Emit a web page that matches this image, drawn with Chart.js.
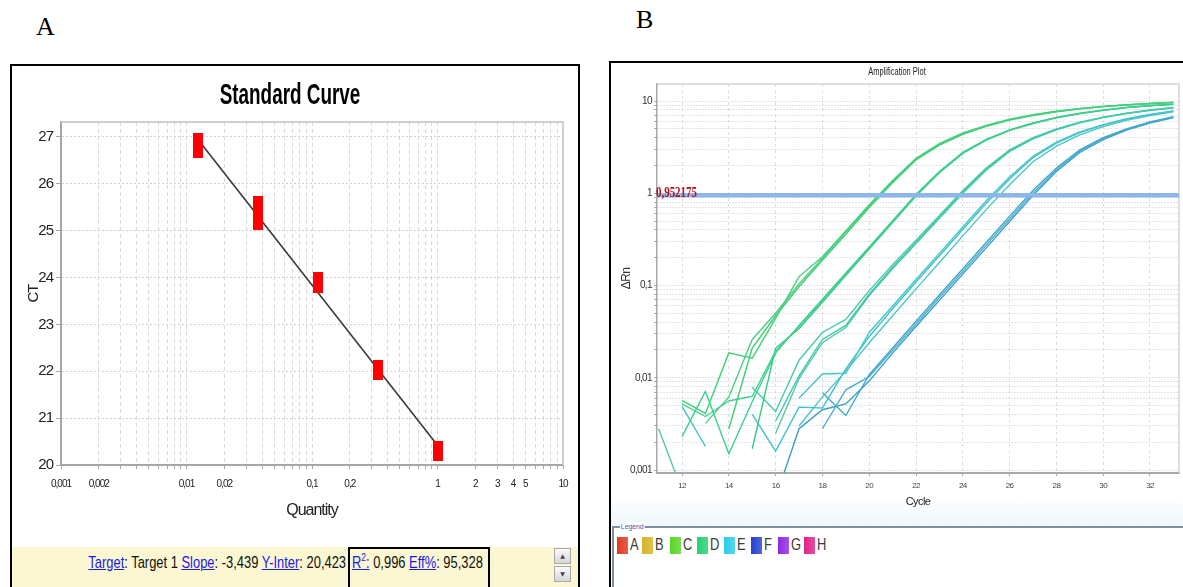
<!DOCTYPE html>
<html>
<head>
<meta charset="utf-8">
<script src="https://cdn.jsdelivr.net/npm/chart.js@4.4.1/dist/chart.umd.min.js"></script>
<style>
  html, body { margin:0; padding:0; background:#fff; }
  body { width:1183px; height:587px; overflow:hidden; position:relative; font-family:"Liberation Sans", Arial, sans-serif; }
  .plabel { position:absolute; font-family:"Liberation Serif","Times New Roman",serif; font-size:26px; color:#000; line-height:1; }
  #panelA { position:absolute; left:10px; top:64px; width:566px; height:540px; border:2px solid #000; background:#fff; }
  #cA { position:absolute; left:0; top:0; }
  #titleA { position:absolute; left:0; top:13px; width:556px; text-align:center; font-size:30px; line-height:30px; font-weight:bold; color:#000; transform:scaleX(0.63); transform-origin:278px 0; white-space:nowrap; }
  #barA { position:absolute; left:0; top:481px; width:566px; height:60px; background:#fbf7d3; }
  #statL { position:absolute; right:232px; top:6px; font-size:17px; white-space:nowrap; color:#111; line-height:20px; transform:scaleX(0.76); transform-origin:right top; }
  #statBox { position:absolute; left:336px; top:0; width:138px; height:60px; border:2px solid #000; }
  #statR { position:absolute; left:2px; top:4px; font-size:17px; white-space:nowrap; color:#111; line-height:20px; transform:scaleX(0.76); transform-origin:left top; }
  #statL a, #statR a { color:#1a1ae6; text-decoration:underline; }
  sup { font-size:11px; line-height:0; }
  .sbtn { position:absolute; left:542px; width:15px; height:14px; border:1px solid #a9a9a9; background:linear-gradient(#fafafa,#d6d6d6); font-size:6px; color:#444; text-align:center; line-height:14px; font-family:"DejaVu Sans",sans-serif; }
  #panelB { position:absolute; left:609px; top:61px; width:600px; height:560px; border-left:2px solid #000; border-top:2px solid #000; background:#fff; }
  #cB { position:absolute; left:0; top:0; }
  #titleB { position:absolute; left:0; top:4px; width:572px; text-align:center; font-size:10px; line-height:10px; color:#222; transform:scaleX(0.75); transform-origin:286px 0; white-space:nowrap; }
  #tintB { position:absolute; left:0; top:432px; width:600px; height:31px; background:linear-gradient(#ffffff,#eef7fb); }
  #legBox { position:absolute; left:1px; top:463px; width:600px; height:120px; border-top:2px solid #7f8d9c; border-left:2px solid #7f8d9c; }
  #legTitle { position:absolute; left:6px; top:-6px; background:#fff; padding:0 1px; font-size:8px; color:#3b5aa8; line-height:9px; transform:scaleX(0.85); transform-origin:left top; }
  .legItem { position:absolute; top:9px; height:18px; }
  .legSw { position:absolute; left:0; top:0; width:11px; height:17px; }
  .legTx { position:absolute; left:13px; top:-1px; font-size:17px; color:#3a3a3a; line-height:18px; transform:scaleX(0.76); transform-origin:left top; }
</style>
</head>
<body>
<div class="plabel" style="left:36px; top:14px;">A</div>
<div class="plabel" style="left:636px; top:7px;">B</div>

<div id="panelA">
  <canvas id="cA" width="566" height="480"></canvas>
  <div id="titleA">Standard Curve</div>
  <div id="barA">
    <div id="statL"><a>Target</a>: Target 1 <a>Slope</a>: -3,439 <a>Y-Inter</a>: 20,423</div>
    <div id="statBox"><div id="statR"><a>R<sup>2</sup>:</a> 0,996 <a>Eff%</a>: 95,328</div></div>
    <div class="sbtn" style="top:1px;">&#9650;</div>
    <div class="sbtn" style="top:19px;">&#9660;</div>
  </div>
</div>

<div id="panelB">
  <div id="tintB"></div>
  <canvas id="cB" width="572" height="457"></canvas>
  <div id="titleB">Amplification Plot</div>
  <div id="legBox">
    <div id="legTitle">Legend</div>
  </div>
</div>

<script>
// ---------------- Panel A data ----------------
const quantities = [0.0123, 0.037, 0.111, 0.333, 1];
const ctRep1 = [26.89, 25.54, 23.93, 22.05, 20.32];
const ctRep2 = [26.80, 25.40, 23.90, 22.03, 20.30];
const ctRep3 = [26.74, 25.20, 23.87, 22.00, 20.28];
const fitX = [0.0123, 1];
const fitY = [26.95, 20.42];
const qtyTickValues = [0.001, 0.002, 0.01, 0.02, 0.1, 0.2, 1, 2, 3, 4, 5, 10];
const qtyTickLabels = ['0,001', '0,002', '0,01', '0,02', '0,1', '0,2', '1', '2', '3', '4', '5', '10'];
const ctTickValues = [20, 21, 22, 23, 24, 25, 26, 27];

// ---------------- Panel B data ----------------
const cycles = [11,12,13,14,15,16,17,18,19,20,21,22,23,24,25,26,27,28,29,30,31,32,33];
const g1a = [null,0.0057,0.0041,0.0186,0.0163,0.044,0.125,0.205,0.39,0.75,1.38,2.40,3.45,4.50,5.45,6.35,7.10,7.75,8.30,8.75,9.10,9.42,9.68];
const g1b = [null,null,0.0032,0.0062,0.026,0.050,0.104,0.198,0.38,0.73,1.34,2.35,3.38,4.42,5.38,6.28,7.03,7.70,8.25,8.72,9.08,9.40,9.66];
const g1c = [null,null,null,0.0028,0.021,0.047,0.097,0.188,0.36,0.70,1.30,2.30,3.32,4.36,5.32,6.22,6.98,7.66,8.22,8.70,9.06,9.38,9.64];
const g2a = [null,0.0023,0.0071,0.0015,0.0055,0.0185,0.037,0.071,0.137,0.262,0.505,0.97,1.72,2.78,3.83,4.87,5.78,6.64,7.36,7.97,8.53,8.93,9.25];
const g2b = [null,0.0052,0.0038,0.0056,0.0063,0.0195,0.036,0.069,0.133,0.257,0.495,0.955,1.70,2.75,3.80,4.84,5.75,6.61,7.33,7.94,8.51,8.91,9.23];
const g2c = [null,null,null,null,0.0017,0.021,0.034,0.066,0.128,0.249,0.482,0.935,1.67,2.71,3.76,4.80,5.71,6.58,7.30,7.91,8.48,8.89,9.21];
const g3a = [null,null,null,null,0.0079,0.0043,0.0155,0.031,0.043,0.088,0.168,0.31,0.575,1.07,1.88,2.95,4.00,5.00,5.90,6.70,7.40,8.00,8.50];
const g3b = [null,null,null,null,null,0.0034,0.0105,0.026,0.037,0.081,0.158,0.295,0.55,1.03,1.82,2.88,3.92,4.92,5.84,6.65,7.35,7.95,8.45];
const g3c = [0.0028,0.0006,null,null,null,0.0025,0.0098,0.024,0.035,0.078,0.152,0.285,0.535,1.00,1.78,2.84,3.88,4.88,5.80,6.62,7.32,7.92,8.42];
const g4a = [null,0.0049,0.0018,null,null,null,0.0060,0.0110,0.0112,0.031,0.060,0.116,0.223,0.43,0.83,1.50,2.52,3.58,4.62,5.55,6.43,7.15,7.80];
const g4b = [null,null,null,null,0.0040,0.0016,0.0048,0.0047,0.0125,0.028,0.056,0.109,0.21,0.405,0.78,1.43,2.44,3.49,4.54,5.48,6.37,7.10,7.76];
const g4c = [null,null,null,null,null,null,0.0030,0.0062,0.0118,0.024,0.047,0.092,0.178,0.345,0.665,1.24,2.20,3.25,4.30,5.28,6.18,6.96,7.65];
const g5a = [null,null,null,null,null,null,null,0.0069,0.0039,0.0108,0.021,0.041,0.079,0.152,0.293,0.565,1.07,1.88,2.95,4.00,5.00,5.92,6.75];
const g5b = [null,null,null,null,null,null,null,0.0028,0.0074,0.0103,0.0198,0.0383,0.074,0.142,0.274,0.529,1.01,1.80,2.86,3.91,4.93,5.85,6.68];
const g5c = [null,null,null,null,null,0.0005,0.0028,0.0045,0.0052,0.0092,0.0185,0.036,0.069,0.133,0.256,0.495,0.95,1.72,2.77,3.82,4.85,5.78,6.60];
const curves = [g1a,g1b,g1c,g2a,g2b,g2c,g3a,g3b,g3c,g4a,g4b,g4c,g5a,g5b,g5c];
const curveColors = ['#44d07a','#4ccf84','#3fcc74','#3ccf8c','#45d095','#38c888','#48cba8','#3fc8b0','#52c8a0','#45c6c8','#3ec0d0','#50c4c4','#3fa8c8','#4aaed0','#3a9ec4'];
const threshold = 0.952175;
const cycleTickValues = [12,14,16,18,20,22,24,26,28,30,32];
const cycleTickLabels = ['12','14','16','18','20','22','24','26','28','30','32'];
const rnTickValues = [0.001, 0.01, 0.1, 1, 10];
const rnTickLabels = ['0,001', '0,01', '0,1', '1', '10'];
const legendLabels = ['A','B','C','D','E','F','G','H'];
const legendColors = ['#e2381c','#d6b424','#58d626','#22d072','#2acce6','#2440d2','#9028e4','#e02288'];

// ---------------- helpers ----------------
const SANS = '"Liberation Sans", Arial, sans-serif';
function logGrid(minExp, maxExp, lo, hi) {
  const out = [];
  for (let e = minExp; e <= maxExp; e++) {
    for (let m = 1; m <= 9; m++) {
      const v = parseFloat((m * Math.pow(10, e)).toPrecision(6));
      if (v >= lo * 0.9999 && v <= hi * 1.0001) out.push(v);
    }
  }
  return out;
}
function labelFor(vals, labels, v) {
  for (let i = 0; i < vals.length; i++) if (Math.abs(v / vals[i] - 1) < 1e-6) return labels[i];
  return '';
}
function framePlugin(color, width) {
  return { id: 'frame', beforeDatasetsDraw(chart) {
    const { ctx, chartArea: a } = chart;
    ctx.save(); ctx.strokeStyle = color; ctx.lineWidth = width;
    ctx.beginPath(); ctx.moveTo(a.left, a.top); ctx.lineTo(a.right, a.top); ctx.lineTo(a.right, a.bottom); ctx.stroke();
    ctx.restore();
  } };
}
function tightText(px) {
  return { id: 'tight',
    beforeUpdate(chart) { chart.ctx.letterSpacing = px; },
    beforeDraw(chart) { chart.ctx.letterSpacing = px; } };
}

// ---------------- Panel A chart ----------------
const redMark = document.createElement('canvas');
redMark.width = 10; redMark.height = 18;
(function(){ const c = redMark.getContext('2d'); c.fillStyle = '#ff0000'; c.fillRect(0, 0, 10, 18); })();

const repSets = [ctRep1, ctRep2, ctRep3];
const dsA = [{
  type: 'line', label: 'fit', data: fitX.map((x, i) => ({ x: x, y: fitY[i] })),
  borderColor: '#3a3a3a', borderWidth: 1.6, pointRadius: 0, order: 5, showLine: true
}];
repSets.forEach((r, k) => dsA.push({
  label: 'rep' + (k + 1), data: quantities.map((q, i) => ({ x: q, y: r[i] })),
  pointStyle: redMark, pointRadius: 6, backgroundColor: '#ff0000', borderWidth: 0, order: 1
}));

new Chart(document.getElementById('cA'), {
  type: 'scatter',
  data: { datasets: dsA },
  options: {
    responsive: false, animation: false, devicePixelRatio: 1,
    layout: { padding: { left: 0, right: 15, top: 56, bottom: 0 } },
    plugins: { legend: { display: false }, tooltip: { enabled: false }, title: { display: false } },
    scales: {
      x: {
        type: 'logarithmic', min: 0.001, max: 10,
        afterBuildTicks: s => { s.ticks = logGrid(-3, 1, 0.001, 10).map(v => ({ value: v })); },
        afterFit: s => { s.height = 81; },
        ticks: { autoSkip: false, maxRotation: 0, padding: 9, color: '#222',
          font: { family: SANS, size: 10 },
          callback: v => labelFor(qtyTickValues, qtyTickLabels, v) },
        grid: { color: '#d9d9d9', lineWidth: 1, drawTicks: true, tickLength: 4, tickColor: '#a8a8a8' },
        border: { display: true, color: '#a6a6a6', width: 2, dash: [4, 3] },
        title: { display: true, text: 'Quantity', color: '#222', font: { family: SANS, size: 16 }, padding: { top: 0, bottom: 26 } }
      },
      y: {
        min: 20, max: 27.32,
        afterBuildTicks: s => { s.ticks = ctTickValues.map(v => ({ value: v })); },
        afterFit: s => { s.width = 49; },
        ticks: { padding: 3, color: '#222', font: { family: SANS, size: 15 } },
        grid: { color: '#cfcfcf', lineWidth: 1, drawTicks: true, tickLength: 5, tickColor: '#a8a8a8' },
        border: { display: true, color: '#a6a6a6', width: 2, dash: [2, 2] },
        title: { display: true, text: 'CT', color: '#222', font: { family: SANS, size: 15 }, padding: { top: 13, bottom: 0 } }
      }
    }
  },
  plugins: [framePlugin('#cfcfcf', 2), tightText('-1px')]
});

// ---------------- Panel B chart ----------------
const dsB = curves.map((arr, i) => ({
  label: 'well' + (i + 1),
  data: arr.map((v, j) => ({ x: cycles[j], y: v })),
  showLine: true, borderColor: curveColors[i], borderWidth: 1.4, pointRadius: 0, spanGaps: false, order: 2
}));
const xMinB = 10.93, xMaxB = 33.24;
dsB.push({
  label: 'threshold', data: [{ x: xMinB, y: threshold }, { x: xMaxB, y: threshold }],
  showLine: true, borderColor: '#8db7ea', borderWidth: 4.5, pointRadius: 0, order: 0
});

const thresholdLabel = {
  id: 'thrLabel',
  afterDatasetsDraw(chart) {
    const { ctx, chartArea: a, scales } = chart;
    const y = scales.y.getPixelForValue(threshold);
    ctx.save();
    ctx.letterSpacing = '0px';
    ctx.translate(a.left - 1, y + 2);
    ctx.scale(0.78, 1);
    ctx.font = 'bold 14px "Liberation Serif", "Times New Roman", serif';
    ctx.fillStyle = '#b3101a';
    ctx.textBaseline = 'alphabetic';
    ctx.fillText(String(threshold).replace('.', ','), 0, 0);
    ctx.restore();
  }
};

new Chart(document.getElementById('cB'), {
  type: 'scatter',
  data: { datasets: dsB },
  options: {
    responsive: false, animation: false, devicePixelRatio: 1,
    layout: { padding: { left: 0, right: 4, top: 21, bottom: 0 } },
    plugins: { legend: { display: false }, tooltip: { enabled: false }, title: { display: false } },
    scales: {
      x: {
        type: 'linear', min: xMinB, max: xMaxB,
        afterBuildTicks: s => { s.ticks = cycleTickValues.map(v => ({ value: v })); },
        afterFit: s => { s.height = 47; },
        ticks: { autoSkip: false, maxRotation: 0, padding: 5, color: '#444', font: { family: SANS, size: 8 },
          callback: v => labelFor(cycleTickValues, cycleTickLabels, v) },
        grid: { color: '#dedede', lineWidth: 1, drawTicks: true, tickLength: 3, tickColor: '#aaa' },
        border: { display: true, color: '#a8a8a8', width: 2, dash: [3, 3] },
        title: { display: true, text: 'Cycle', color: '#222', font: { family: SANS, size: 11 }, padding: { top: 0, bottom: 11 } }
      },
      y: {
        type: 'logarithmic', min: 0.000928, max: 15.3,
        afterBuildTicks: s => { s.ticks = logGrid(-4, 1, 0.000928, 15.3).map(v => ({ value: v })); },
        afterFit: s => { s.width = 46; },
        ticks: { autoSkip: false, padding: 2, color: '#333', font: { family: SANS, size: 10 },
          callback: v => labelFor(rnTickValues, rnTickLabels, v) },
        grid: { color: '#c9c9c9', lineWidth: 1, drawTicks: true, tickLength: 3, tickColor: '#aaa' },
        border: { display: true, color: '#a8a8a8', width: 1.5, dash: [1, 2] },
        title: { display: true, text: 'ΔRn', color: '#333', font: { family: SANS, size: 12 }, padding: { top: 8, bottom: 0 } }
      }
    }
  },
  plugins: [framePlugin('#d4d4d4', 1.5), thresholdLabel, tightText('-0.6px')]
});

// ---------------- Panel B legend ----------------
const legBox = document.getElementById('legBox');
const legLeft = [3, 28, 56, 83, 110, 137, 164, 190];
legendLabels.forEach((t, i) => {
  const it = document.createElement('div');
  it.className = 'legItem';
  it.style.left = legLeft[i] + 'px';
  const sw = document.createElement('div');
  sw.className = 'legSw';
  sw.style.background = 'linear-gradient(90deg,' + legendColors[i] + ' 0%,' + legendColors[i] + 'cc 100%)';
  const tx = document.createElement('div');
  tx.className = 'legTx';
  tx.textContent = t;
  it.appendChild(sw); it.appendChild(tx);
  legBox.appendChild(it);
});
</script>
</body>
</html>
